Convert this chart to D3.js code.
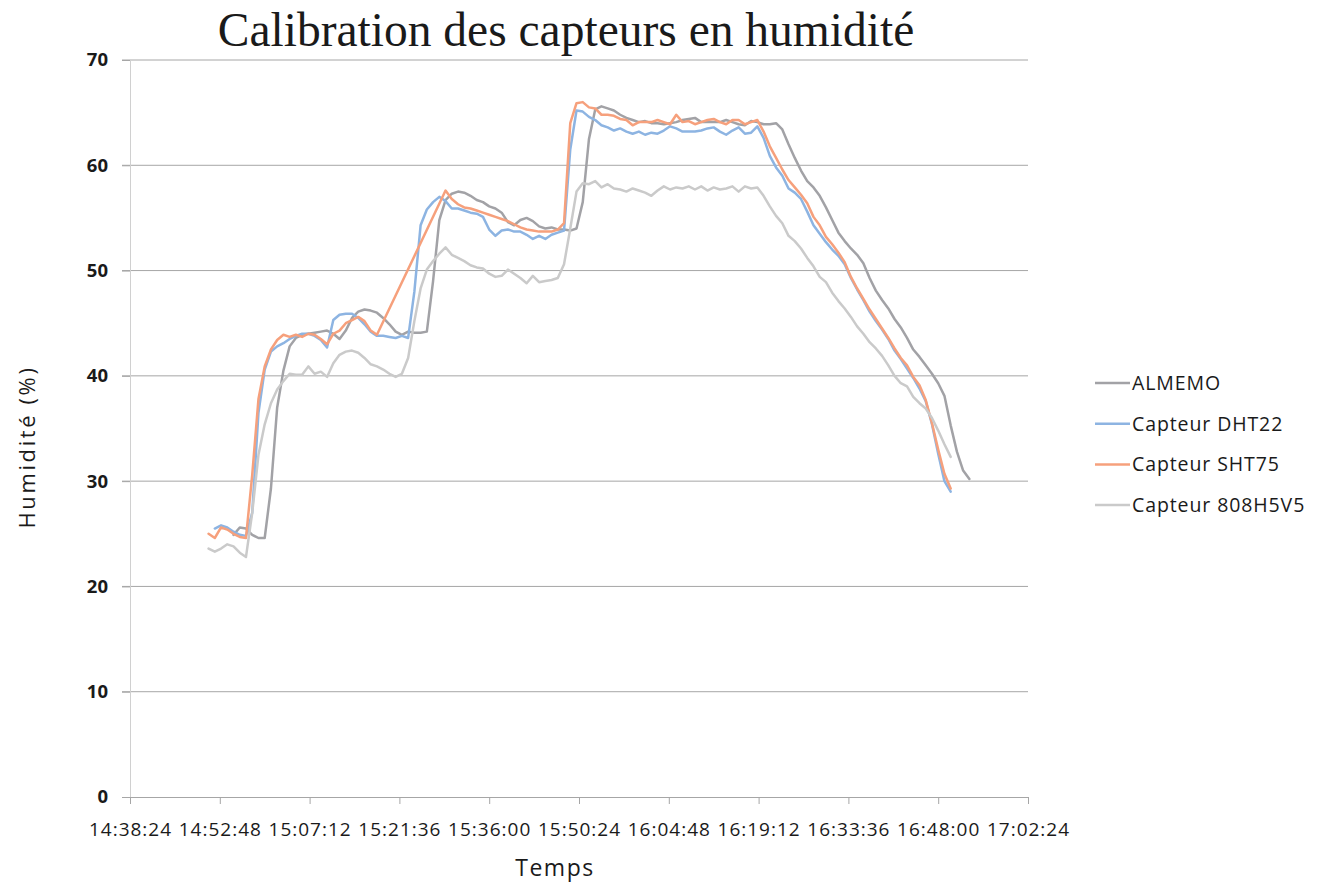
<!DOCTYPE html>
<html>
<head>
<meta charset="utf-8">
<script src="https://cdn.jsdelivr.net/npm/d3@7"></script>
<style>
  html, body { margin: 0; padding: 0; background: #ffffff; }
  svg { display: block; }
</style>
</head>
<body>
<svg id="chart" width="1320" height="884"></svg>
<script>
// Humidity readings, one value per minute from 14:51:00
const sampleOrigin = "14:51:00";
const seriesNames = ["ALMEMO", "Capteur DHT22", "Capteur SHT75", "Capteur 808H5V5"];
const seriesColors = ["#a2a2a6", "#8db4e2", "#f6a07c", "#cacaca"];

// minute index (after 14:51:00) of each series' first reading
const almemoStart = 4;
const dht22Start = 1;
const sht75Start = 0;
const h5v5Start = 0;

const almemo = [
  24.9, 25.6, 25.5, 24.9, 24.6, 24.6, 29.3, 37.0, 40.5, 42.8,
  43.6, 43.9, 44.0, 44.1, 44.2, 44.3, 44.0, 43.5, 44.3, 45.5,
  46.1, 46.3, 46.2, 46.0, 45.5, 44.9, 44.2, 43.9, 44.2, 44.1,
  44.1, 44.2, 49.0, 54.8, 56.7, 57.3, 57.5, 57.4, 57.1, 56.7,
  56.5, 56.1, 55.9, 55.5, 54.6, 54.3, 54.8, 55.0, 54.7, 54.2,
  54.0, 54.1, 53.9, 53.9, 53.8, 54.0, 56.5, 62.5, 65.3, 65.6,
  65.4, 65.2, 64.8, 64.5, 64.3, 64.1, 64.2, 64.0, 64.0, 63.9,
  64.0, 64.1, 64.3, 64.4, 64.5, 64.1, 64.1, 64.1, 64.1, 64.3,
  64.1, 63.9, 63.8, 64.2, 64.1, 63.9, 63.9, 64.0, 63.4, 62.0,
  60.7, 59.5, 58.5, 57.9, 57.1, 56.0, 54.8, 53.6, 52.8, 52.1,
  51.5, 50.7, 49.3, 48.1, 47.2, 46.4, 45.4, 44.6, 43.6, 42.5,
  41.8, 41.0, 40.2, 39.3, 38.1, 35.3, 32.8, 31.0, 30.2
];

const dht22 = [
  25.5, 25.8, 25.6, 25.2, 24.9, 24.8, 27.0, 36.5, 40.6, 42.3,
  42.8, 43.1, 43.5, 43.8, 44.0, 44.0, 43.8, 43.4, 42.7, 45.3,
  45.8, 45.9, 45.9, 45.5, 44.9, 44.2, 43.8, 43.8, 43.7, 43.6,
  43.8, 43.6, 48.0, 54.3, 55.8, 56.5, 57.0, 56.6, 55.9, 55.9,
  55.7, 55.5, 55.4, 55.1, 53.9, 53.3, 53.8, 53.9, 53.7, 53.7,
  53.4, 53.0, 53.3, 53.0, 53.4, 53.6, 53.8, 61.5, 65.2, 65.1,
  64.6, 64.3, 63.8, 63.6, 63.3, 63.5, 63.2, 63.0, 63.2, 62.9,
  63.1, 63.0, 63.3, 63.7, 63.5, 63.2, 63.2, 63.2, 63.3, 63.5,
  63.6, 63.2, 62.9, 63.3, 63.6, 63.0, 63.1, 63.7, 62.6, 60.9,
  59.8, 59.0, 57.8, 57.4, 56.8, 55.6, 54.3, 53.5, 52.7, 52.0,
  51.4, 50.6, 49.3, 48.2, 47.2, 46.1, 45.2, 44.4, 43.5, 42.4,
  41.6, 40.7, 39.8, 38.8, 37.6, 35.4, 32.6, 30.0, 29.0
];

// readings missing between 15:18 and 15:29 (null)
const sht75 = [
  25.0, 24.6, 25.6, 25.4, 25.0, 24.7, 24.6, 30.6, 37.8, 40.9,
  42.5, 43.4, 43.9, 43.7, 43.9, 43.7, 44.0, 43.9, 43.5, 43.0,
  44.0, 44.3, 45.0, 45.3, 45.6, 45.2, 44.3, 43.9, null, null,
  null, null, null, null, null, null, null, null, 57.6, 56.8,
  56.3, 56.0, 55.9, 55.7, 55.5, 55.3, 55.1, 54.9, 54.7, 54.4,
  54.1, 53.9, 53.8, 53.7, 53.7, 53.7, 53.9, 54.5, 64.0, 65.9,
  66.0, 65.5, 65.4, 64.8, 64.8, 64.7, 64.4, 64.3, 63.8, 64.1,
  64.1, 64.1, 64.3, 64.1, 63.9, 64.8, 64.1, 64.2, 63.9, 64.1,
  64.3, 64.4, 64.1, 63.9, 64.3, 64.3, 63.9, 64.1, 64.3, 63.2,
  61.8, 60.7, 59.6, 58.6, 57.9, 57.2, 56.4, 55.1, 54.3, 53.2,
  52.5, 51.7, 50.8, 49.4, 48.3, 47.3, 46.3, 45.4, 44.5, 43.6,
  42.6, 41.7, 41.0, 39.9, 39.1, 37.7, 35.5, 33.0, 30.7, 29.3
];

const h5v5 = [
  23.6, 23.3, 23.6, 24.0, 23.8, 23.2, 22.8, 27.0, 32.5, 35.4,
  37.4, 38.7, 39.5, 40.2, 40.1, 40.1, 40.9, 40.2, 40.4, 39.9,
  41.2, 42.0, 42.3, 42.4, 42.2, 41.7, 41.1, 40.9, 40.6, 40.2,
  39.9, 40.2, 41.7, 45.2, 48.3, 50.1, 50.9, 51.6, 52.2, 51.5,
  51.2, 50.9, 50.5, 50.3, 50.2, 49.7, 49.4, 49.5, 50.1, 49.7,
  49.3, 48.8, 49.5, 48.9, 49.0, 49.1, 49.3, 50.6, 54.0, 57.5,
  58.3, 58.2, 58.5, 57.9, 58.2, 57.8, 57.7, 57.5, 57.8, 57.6,
  57.4, 57.1, 57.6, 58.0, 57.7, 57.9, 57.8, 58.0, 57.7, 58.0,
  57.6, 57.9, 57.7, 57.8, 58.0, 57.5, 58.0, 57.8, 57.9, 57.1,
  56.1, 55.2, 54.5, 53.3, 52.8, 52.1, 51.2, 50.4, 49.4, 48.9,
  47.9, 47.1, 46.4, 45.6, 44.7, 44.0, 43.2, 42.6, 41.9, 41.0,
  40.0, 39.3, 39.0, 38.0, 37.4, 36.9, 36.0, 34.8, 33.5, 32.3
];

// axis ticks
const xTickLabels = ["14:38:24", "14:52:48", "15:07:12", "15:21:36", "15:36:00",
  "15:50:24", "16:04:48", "16:19:12", "16:33:36", "16:48:00", "17:02:24"];
const yTickValues = [0, 10, 20, 30, 40, 50, 60, 70];

const toSec = s => { const p = s.split(":").map(Number); return p[0] * 3600 + p[1] * 60 + p[2]; };
const fmt = sec => [Math.floor(sec / 3600), Math.floor(sec / 60) % 60, sec % 60]
  .map(v => String(v).padStart(2, "0")).join(":");

const originSec = toSec(sampleOrigin);
function build(values, start) {
  return values.map((v, k) => ({ t: originSec + (start + k) * 60, v }));
}
const series = [
  { name: seriesNames[0], color: seriesColors[0], pts: build(almemo, almemoStart) },
  { name: seriesNames[1], color: seriesColors[1], pts: build(dht22, dht22Start) },
  { name: seriesNames[2], color: seriesColors[2], pts: build(sht75, sht75Start) },
  { name: seriesNames[3], color: seriesColors[3], pts: build(h5v5, h5v5Start) }
];

const svg = d3.select("#chart");
const plotLeft = 130, plotRight = 1028, plotTop = 60, plotBottom = 797;
const xTickSecs = xTickLabels.map(toSec);

const x = d3.scaleLinear()
  .domain([xTickSecs[0], xTickSecs[xTickSecs.length - 1]])
  .range([plotLeft, plotRight]);
const y = d3.scaleLinear().domain([0, 70]).range([plotBottom, plotTop]);

const sans = "'Open Sans', 'Noto Sans', sans-serif";

// horizontal gridlines
svg.append("g")
  .selectAll("line")
  .data(yTickValues.filter(d => d > 0))
  .join("line")
  .attr("x1", plotLeft - 8).attr("x2", plotRight)
  .attr("y1", d => y(d)).attr("y2", d => y(d))
  .attr("stroke", "#a6a6a6").attr("stroke-width", 1);

// y axis
const yAxis = svg.append("g")
  .attr("transform", `translate(${plotLeft},0)`)
  .call(d3.axisLeft(y).tickValues(yTickValues).tickSize(8).tickPadding(14));
yAxis.select(".domain").attr("stroke", "#d0d0d0");
yAxis.selectAll(".tick line").attr("stroke", "#a6a6a6");
yAxis.selectAll(".tick text")
  .attr("font-family", sans).attr("font-size", 18.5).attr("font-weight", "bold")
  .attr("fill", "#1a1a1a");

// x axis
const xAxis = svg.append("g")
  .attr("transform", `translate(0,${plotBottom})`)
  .call(d3.axisBottom(x).tickValues(xTickSecs).tickFormat(fmt).tickSize(7).tickPadding(19)
    .tickSizeOuter(0));
xAxis.select(".domain").attr("stroke", "#a6a6a6");
xAxis.selectAll(".tick line").attr("stroke", "#a6a6a6");
xAxis.selectAll(".tick text")
  .attr("font-family", sans).attr("font-size", 19).attr("letter-spacing", 1)
  .attr("fill", "#1a1a1a");

// series lines
const line = d3.line()
  .x(d => x(d.t)).y(d => y(d.v))
  .curve(d3.curveLinear);

svg.append("g")
  .selectAll("path")
  .data(series)
  .join("path")
  .attr("d", s => line(s.pts.filter(p => p.v !== null)))
  .attr("fill", "none")
  .attr("stroke", s => s.color)
  .attr("stroke-width", 2.5)
  .attr("stroke-linejoin", "round")
  .attr("stroke-linecap", "round");

// title
svg.append("text")
  .attr("x", 566).attr("y", 46)
  .attr("text-anchor", "middle")
  .attr("font-family", "'Liberation Serif', 'Times New Roman', serif")
  .attr("font-size", 47.5)
  .attr("fill", "#1a1a1a")
  .text("Calibration des capteurs en humidité");

// axis titles
svg.append("text")
  .attr("transform", "translate(35,447) rotate(-90)")
  .attr("text-anchor", "middle")
  .attr("font-family", sans).attr("font-size", 22).attr("fill", "#1a1a1a")
  .attr("letter-spacing", 2.6)
  .text("Humidité (%)");

svg.append("text")
  .attr("x", 555).attr("y", 876)
  .attr("text-anchor", "middle")
  .attr("font-family", sans).attr("font-size", 23).attr("fill", "#1a1a1a")
  .attr("letter-spacing", 1.5)
  .text("Temps");

// legend
const legend = svg.append("g").attr("transform", "translate(1095,383)");
const items = legend.selectAll("g")
  .data(series)
  .join("g")
  .attr("transform", (d, k) => `translate(0,${k * 40.7})`);
items.append("line")
  .attr("x1", 0).attr("x2", 35).attr("y1", 0).attr("y2", 0)
  .attr("stroke", d => d.color).attr("stroke-width", 2.5);
items.append("text")
  .attr("x", 37).attr("y", 0).attr("dy", "0.35em")
  .attr("font-family", sans).attr("font-size", 19.5).attr("fill", "#1a1a1a")
  .attr("letter-spacing", 0.9)
  .text(d => d.name);
</script>
</body>
</html>
